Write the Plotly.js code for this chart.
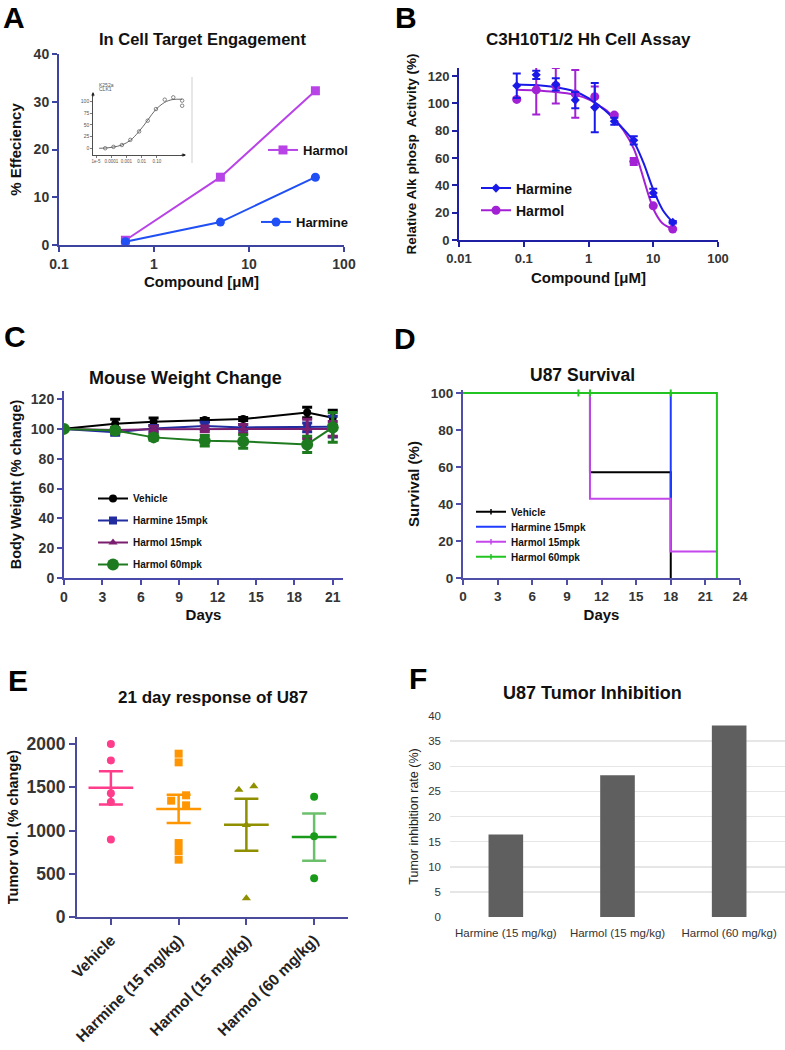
<!DOCTYPE html>
<html><head><meta charset="utf-8">
<script src="https://cdn.plot.ly/plotly-3.0.1.min.js"></script>
<style>html,body{margin:0;padding:0;background:#fff}#chart{width:785px;height:1050px}</style>
</head><body><div id="chart"></div>
<script>
// ================= DATA =================
// Panel A: In Cell Target Engagement
const concA = [0.5, 5, 50];
const harmolA = [1.0, 14.2, 32.3];
const harmineA = [0.7, 4.8, 14.2];
// Panel A inset (K252a / CLK1)
const insetPtsX = [4e-5, 1.4e-4, 5e-4, 1.8e-3, 6.8e-3, 0.025, 0.087, 0.33, 1.2, 4.6, 4.6];
const insetPtsY = [0, 3, 7, 18, 36, 59, 84, 104, 109, 102, 91];
const insetFitX = [1.6e-5, 4e-5, 1.3e-4, 5e-4, 1.8e-3, 6.3e-3, 0.025, 0.08, 0.32, 1.0, 4.6];
const insetFitY = [0, 0.5, 2.5, 7, 17, 35, 60, 82, 98, 104, 105];
const insetTicks = [1e-5, 1e-4, 1e-3, 1e-2, 0.1];
const insetTickText = ['1e-5', '0.0001', '0.001', '0.01', '0.10'];

// Panel B: C3H10T1/2 Hh Cell Assay
const concB = [0.078, 0.156, 0.3125, 0.625, 1.25, 2.5, 5, 10, 20];
const harmineB = [113, 121, 114, 102.5, 97, 87, 73, 34.5, 13];
const harmineErrB = [9, 3, 4.5, 6, 18, 2.5, 3, 3, 1];
const harmolB = [103, 110, 113, 107, 105, 91.5, 57.5, 25, 8];
const harmolErrB = [0, 18, 13, 17.5, 7.5, 1, 2.5, 0, 0];
const fitXB_harmine = [0.078, 0.15, 0.3, 0.6, 1.0, 1.5, 2.0, 2.5, 3.5, 5, 7, 10, 14, 20];
const fitYB_harmine = [114, 113.5, 112, 109, 104, 98, 93, 88, 81, 72, 57, 37, 22, 13];
const fitXB_harmol = [0.078, 0.15, 0.3, 0.6, 1.0, 1.5, 2.0, 2.5, 3.5, 5, 6.2, 7.5, 9, 11, 14, 20];
const fitYB_harmol = [110, 109.5, 108.5, 106.5, 103, 98, 94, 89, 80, 67, 54, 41, 29, 19, 12, 8];

// Panel C: Mouse Weight Change
const daysC = [0, 4, 7, 11, 14, 19, 21];
const vehicleC = [100, 103.5, 104.8, 105.9, 106.6, 111, 107.5];
const vehicleErrC = [0, 3, 2.5, 1, 1, 3.5, 5];
const harmineC = [100, 97.8, 100.3, 102, 101, 101, 101.5];
const harmineErrC = [0, 2, 2, 2.5, 2, 3, 7];
const harmol15C = [100, 99.3, 99.7, 100, 100, 100, 100];
const harmol15ErrC = [0, 1, 2, 2, 3, 6.5, 5];
const harmol60C = [100, 98.9, 94.3, 92, 91.5, 89.6, 101];
const harmol60ErrC = [0, 2, 2, 3.5, 4.5, 5.5, 10];

// Panel D: U87 Survival (Kaplan-Meier steps)
const vehicleDaysD = [0, 11, 18];
const vehicleSurvD = [100, 57.14, 0];
const harmineDaysD = [0, 18];
const harmineSurvD = [100, 14.29];
const harmol15DaysD = [0, 11, 18, 22];
const harmol15SurvD = [100, 42.86, 14.29, 14.29];
const harmol60DaysD = [0, 22];
const harmol60SurvD = [100, 0];
const censorDaysD = [10, 11, 18];
const censorSurvD = [100, 100, 100];

// Panel E: 21 day response of U87
const groupsE = ['Vehicle', 'Harmine (15 mg/kg)', 'Harmol (15 mg/kg)', 'Harmol (60 mg/kg)'];
const vehicleE = [2000, 1810, 1430, 1330, 895];
const harmineE = [1888, 1788, 1407, 1345, 1291, 855, 763, 663];
const harmol15E = [1511, 1472, 1064, 216];
const harmol60E = [1391, 933, 447];

// Panel F: U87 Tumor Inhibition
const groupsF = ['Harmine (15 mg/kg)', 'Harmol (15 mg/kg)', 'Harmol (60 mg/kg)'];
const inhibitionF = [16.4, 28.2, 38.1];

// ================= STYLE / LAYOUT HELPERS =================
const W = 785, H = 1050;
const fx = p => p / W;
const fy = p => 1 - p / H;
const FONT = 'Liberation Sans, Arial, Helvetica, sans-serif';
const TICKC = '#353535';

// jitter offsets for the scatter panel (layout only)
const jitterE = [
  [0, 0, 0, 0, 0],
  [0, 0, 0.11, -0.11, 0.11, 0, 0, 0],
  [0.11, -0.11, 0, 0],
  [0, 0, 0]
];

const mean = a => a.reduce((s, v) => s + v, 0) / a.length;
const sem = a => { const m = mean(a); return Math.sqrt(a.reduce((s, v) => s + (v - m) ** 2, 0) / (a.length - 1)) / Math.sqrt(a.length); };

function ax(color, size, extra) {
  return Object.assign({
    showline: true, linecolor: color, linewidth: 2,
    ticks: 'outside', tickcolor: color, tickwidth: 2, ticklen: 5,
    showgrid: false, zeroline: false, fixedrange: true,
    tickfont: {family: FONT, size: size, color: TICKC, weight: 'bold'}
  }, extra);
}
function ttl(text, size, standoff) {
  return {text: text, font: {family: FONT, size: size, color: '#111', weight: 'bold'}, standoff: standoff};
}

// colours
const cA_harmol = '#b843e6', cA_harmine = '#1f4ff5';
const cB_harmine = '#1a1ae8', cB_harmol = '#a321d4';
const cC = ['#000000', '#212d9e', '#7a1f6f', '#1e7a1e'];
const cD = ['#000000', '#1f3cff', '#c447ec', '#22c422'];
const cE = ['#ff3d8b', '#ff9500', '#8f8f00', '#1a9a1a'];
const cE60err = '#6cc06c';

const traces = [];

// ---- Panel A ----
traces.push({x: concA, y: harmolA, xaxis: 'x', yaxis: 'y', mode: 'lines+markers', name: 'Harmol',
  line: {color: cA_harmol, width: 2}, marker: {symbol: 'square', size: 9, color: cA_harmol}, legend: 'legend'});
traces.push({x: concA, y: harmineA, xaxis: 'x', yaxis: 'y', mode: 'lines+markers', name: 'Harmine',
  line: {color: cA_harmine, width: 2}, marker: {symbol: 'circle', size: 9, color: cA_harmine}, legend: 'legend2'});
// inset
traces.push({x: insetFitX, y: insetFitY, xaxis: 'x7', yaxis: 'y7', mode: 'lines', line: {color: '#444', width: 0.8, shape: 'spline'}, showlegend: false});
traces.push({x: insetPtsX, y: insetPtsY, xaxis: 'x7', yaxis: 'y7', mode: 'markers', marker: {symbol: 'circle-open', size: 3.5, color: '#555', line: {width: 0.7}}, showlegend: false});

// ---- Panel B ----
traces.push({x: fitXB_harmol, y: fitYB_harmol, xaxis: 'x2', yaxis: 'y2', mode: 'lines', line: {color: cB_harmol, width: 2, shape: 'spline'}, showlegend: false});
traces.push({x: fitXB_harmine, y: fitYB_harmine, xaxis: 'x2', yaxis: 'y2', mode: 'lines', line: {color: cB_harmine, width: 2, shape: 'spline'}, showlegend: false});
traces.push({x: concB, y: harmolB, xaxis: 'x2', yaxis: 'y2', mode: 'markers', showlegend: false,
  marker: {symbol: 'circle', size: 9, color: cB_harmol},
  error_y: {type: 'data', array: harmolErrB, color: cB_harmol, thickness: 2, width: 4}});
traces.push({x: concB, y: harmineB, xaxis: 'x2', yaxis: 'y2', mode: 'markers', showlegend: false,
  marker: {symbol: 'diamond', size: 7, color: cB_harmine},
  error_y: {type: 'data', array: harmineErrB, color: cB_harmine, thickness: 2, width: 4}});
traces.push({x: [null], y: [null], xaxis: 'x2', yaxis: 'y2', mode: 'lines+markers', name: 'Harmine', legend: 'legend3', legendgroup: 'b1',
  line: {color: cB_harmine, width: 2}, marker: {symbol: 'diamond', size: 7, color: cB_harmine}});
traces.push({x: [null], y: [null], xaxis: 'x2', yaxis: 'y2', mode: 'lines+markers', name: 'Harmol', legend: 'legend3', legendgroup: 'b2',
  line: {color: cB_harmol, width: 2}, marker: {symbol: 'circle', size: 9, color: cB_harmol}});

// ---- Panel C ----
const cNames = ['Vehicle', 'Harmine 15mpk', 'Harmol 15mpk', 'Harmol 60mpk'];
const cY = [vehicleC, harmineC, harmol15C, harmol60C];
const cErr = [vehicleErrC, harmineErrC, harmol15ErrC, harmol60ErrC];
const cSym = ['circle', 'square', 'triangle-up', 'circle'];
const cSize = [8, 8, 8, 12];
for (let i = 0; i < 4; i++) {
  traces.push({x: daysC, y: cY[i], xaxis: 'x3', yaxis: 'y3', mode: 'lines+markers', name: cNames[i],
    legend: 'legend4', legendgroup: 'c' + i,
    line: {color: cC[i], width: 2}, marker: {symbol: cSym[i], size: cSize[i], color: cC[i]},
    error_y: {type: 'data', array: cErr[i], color: cC[i], thickness: 3, width: 5}});
}

// ---- Panel D ----
const dDays = [vehicleDaysD, harmineDaysD, harmol15DaysD, harmol60DaysD];
const dSurv = [vehicleSurvD, harmineSurvD, harmol15SurvD, harmol60SurvD];
for (let i = 0; i < 4; i++) {
  traces.push({x: dDays[i], y: dSurv[i], xaxis: 'x4', yaxis: 'y4', mode: 'lines', line: {color: cD[i], width: 2, shape: 'hv'}, showlegend: false});
}
traces.push({x: censorDaysD, y: censorSurvD, xaxis: 'x4', yaxis: 'y4', mode: 'markers', showlegend: false, cliponaxis: false,
  marker: {symbol: 'line-ns-open', size: 5, color: cD[3], line: {color: cD[3], width: 2}}});
for (let i = 0; i < 4; i++) {
  traces.push({x: [null], y: [null], xaxis: 'x4', yaxis: 'y4', mode: i === 1 ? 'lines' : 'lines+markers', name: cNames[i],
    legend: 'legend' + (5 + i), line: {color: cD[i], width: 2},
    marker: {symbol: 'line-ns-open', size: 4, color: cD[i], line: {color: cD[i], width: 1.5}}});
}

// ---- Panel E ----
const eData = [vehicleE, harmineE, harmol15E, harmol60E];
const eSym = ['circle', 'square', 'triangle-up', 'circle'];
for (let g = 0; g < 4; g++) {
  const m = mean(eData[g]), s = sem(eData[g]);
  traces.push({x: [g], y: [m], xaxis: 'x5', yaxis: 'y5', mode: 'markers', showlegend: false,
    marker: {size: 1, color: 'rgba(0,0,0,0)'},
    error_y: {type: 'data', array: [s], color: g === 3 ? cE60err : cE[g], thickness: 2.5, width: 12}});
  traces.push({x: [g], y: [m], xaxis: 'x5', yaxis: 'y5', mode: 'markers', showlegend: false,
    marker: {size: 1, color: 'rgba(0,0,0,0)'},
    error_x: {type: 'data', array: [0.33], color: cE[g], thickness: 2.5, width: 0}});
  traces.push({x: eData[g].map((v, k) => g + jitterE[g][k]), y: eData[g], xaxis: 'x5', yaxis: 'y5', mode: 'markers', showlegend: false,
    cliponaxis: false, marker: {symbol: eSym[g], size: 8, color: cE[g]}});
}

// ---- Panel F ----
traces.push({type: 'bar', x: groupsF, y: inhibitionF, xaxis: 'x6', yaxis: 'y6', width: 0.31,
  marker: {color: '#5f5f5f', line: {width: 0}}, showlegend: false});

// ================= LAYOUT =================
function leg(x, y, size, extra) {
  return Object.assign({x: fx(x), y: fy(y), xanchor: 'left', yanchor: 'middle', bgcolor: 'rgba(0,0,0,0)',
    borderwidth: 0, font: {family: FONT, size: size, color: '#111', weight: 'bold'}, itemclick: false, itemdoubleclick: false}, extra || {});
}

const layout = {
  width: W, height: H, margin: {l: 0, r: 0, t: 0, b: 0},
  paper_bgcolor: '#fff', plot_bgcolor: 'rgba(0,0,0,0)',
  font: {family: FONT},
  showlegend: true,
  // A
  xaxis: ax('#3d44a0', 14, {domain: [fx(59), fx(344)], anchor: 'y', type: 'log', range: [-1, 2],
    tickvals: [0.1, 1, 10, 100], ticktext: ['0.1', '1', '10', '100'], title: ttl('Compound [μM]', 15, 6)}),
  yaxis: ax('#3d44a0', 14, {domain: [fy(245), fy(54)], anchor: 'x', range: [0, 40], tickvals: [0, 10, 20, 30, 40],
    title: ttl('% Effeciency', 15, 8)}),
  // inset
  xaxis7: {domain: [fx(93), fx(185)], anchor: 'y7', type: 'log', range: [-5.2, 0.85], showline: true, linecolor: '#222', linewidth: 0.8,
    ticks: 'outside', ticklen: 2, tickcolor: '#222', tickwidth: 0.6, tickvals: insetTicks, ticktext: insetTickText, tickangle: 0,
    tickfont: {family: FONT, size: 4.5, color: '#555'}, showgrid: false, zeroline: false, fixedrange: true},
  yaxis7: {domain: [fy(155), fy(95)], anchor: 'x7', range: [-14.4, 114], showline: true, linecolor: '#222', linewidth: 0.8,
    ticks: 'outside', ticklen: 2, tickcolor: '#222', tickwidth: 0.6, tickvals: [0, 25, 50, 75, 100],
    tickfont: {family: FONT, size: 5, color: '#555'}, showgrid: false, zeroline: false, fixedrange: true},
  // B
  xaxis2: ax('#1f1fa3', 13, {domain: [fx(459), fx(718)], anchor: 'y2', type: 'log', range: [-2, 2],
    tickvals: [0.01, 0.1, 1, 10, 100], ticktext: ['0.01', '0.1', '1', '10', '100'], title: ttl('Compound [μM]', 15, 8)}),
  yaxis2: ax('#1f1fa3', 13, {domain: [fy(240), fy(68)], anchor: 'x2', range: [0, 126], tickvals: [0, 20, 40, 60, 80, 100, 120],
    title: ttl('Relative Alk phosp  Activity (%)', 13.5, 8)}),
  // C
  xaxis3: ax('#4a4aad', 14, {domain: [fx(64), fx(343)], anchor: 'y3', range: [0, 21.8], tickvals: [0, 3, 6, 9, 12, 15, 18, 21],
    title: ttl('Days', 15, 6)}),
  yaxis3: ax('#4a4aad', 14, {domain: [fy(578), fy(391)], anchor: 'x3', range: [0, 125.4], tickvals: [0, 20, 40, 60, 80, 100, 120],
    title: ttl('Body Weight (% change)', 14.5, 6)}),
  // D
  xaxis4: ax('#4f4fa8', 13.5, {domain: [fx(463), fx(740)], anchor: 'y4', range: [0, 24], tickvals: [0, 3, 6, 9, 12, 15, 18, 21, 24],
    title: ttl('Days', 15, 6)}),
  yaxis4: ax('#4f4fa8', 13.5, {domain: [fy(578), fy(390)], anchor: 'x4', range: [0, 101.6], tickvals: [0, 20, 40, 60, 80, 100],
    title: ttl('Survival (%)', 15, 8)}),
  // E
  xaxis5: ax('#4b4b9e', 15, {domain: [fx(77), fx(348)], anchor: 'y5', range: [-0.5, 3.5], tickvals: [0, 1, 2, 3], ticktext: groupsE,
    tickangle: -45, ticklen: 6, tickfont: {family: FONT, size: 15.5, color: '#222', weight: 'bold'}}),
  yaxis5: ax('#4b4b9e', 17.5, {domain: [fy(917), fy(737)], anchor: 'x5', range: [0, 2081], tickvals: [0, 500, 1000, 1500, 2000],
    ticklen: 6, title: ttl('Tumor vol. (% change)', 14.5, 4)}),
  // F
  xaxis6: {domain: [fx(450), 1], anchor: 'y6', type: 'category', range: [-0.5, 2.5], showline: false, ticks: '', showgrid: false,
    zeroline: false, fixedrange: true, ticklabelstandoff: 7, tickfont: {family: FONT, size: 11.5, color: '#333'}},
  yaxis6: {domain: [fy(917), fy(716)], anchor: 'x6', range: [0, 40], dtick: 5, showline: false, ticks: '', showgrid: true,
    gridcolor: '#e6e6e6', gridwidth: 1.5, zeroline: false, fixedrange: true, ticklabelstandoff: 8,
    tickfont: {family: FONT, size: 11.5, color: '#333'},
    title: {text: 'Tumor inhibition rate (%)', font: {family: FONT, size: 12.5, color: '#222'}, standoff: 6}},
  legend: leg(263, 150, 13),
  legend2: leg(256, 222, 13),
  legend3: leg(476, 199.5, 14, {tracegroupgap: 1}),
  legend4: leg(93, 531.5, 10, {tracegroupgap: 3}),
  legend5: leg(471, 511.7, 10),
  legend6: leg(471, 526.7, 10),
  legend7: leg(471, 541.7, 10),
  legend8: leg(471, 556.7, 10),
  shapes: [
    {type: 'line', xref: 'paper', yref: 'paper', x0: fx(192), x1: fx(192), y0: fy(77), y1: fy(163), line: {color: '#cfcfcf', width: 1}}
  ],
  annotations: [
    {text: 'A', x: fx(14), y: fy(17)}, {text: 'B', x: fx(406), y: fy(17)},
    {text: 'C', x: fx(15), y: fy(337)}, {text: 'D', x: fx(405), y: fy(338)},
    {text: 'E', x: fx(18), y: fy(680)}, {text: 'F', x: fx(418), y: fy(678)}
  ].map(a => Object.assign(a, {xref: 'paper', yref: 'paper', showarrow: false, xanchor: 'center', yanchor: 'middle',
    borderpad: 0, font: {family: FONT, size: 30, color: '#000', weight: 'bold'}})).concat([
    {text: 'In Cell Target Engagement', x: fx(202), y: fy(39), size: 16.5},
    {text: 'C3H10T1/2 Hh Cell Assay', x: fx(588), y: fy(39), size: 17},
    {text: 'Mouse Weight Change', x: fx(185), y: fy(378), size: 18},
    {text: 'U87 Survival', x: fx(582), y: fy(375), size: 17.5},
    {text: '21 day response of U87', x: fx(213), y: fy(697), size: 17},
    {text: 'U87 Tumor Inhibition', x: fx(592), y: fy(693), size: 18}
  ].map(a => ({text: a.text, x: a.x, y: a.y, xref: 'paper', yref: 'paper', showarrow: false, xanchor: 'center', yanchor: 'middle',
    font: {family: FONT, size: a.size, color: '#111', weight: 'bold'}}))).concat([
    {text: 'K252a', x: fx(97), y: fy(84.5), xref: 'paper', yref: 'paper', showarrow: false, xanchor: 'left', yanchor: 'middle',
      font: {family: FONT, size: 5, color: '#555'}},
    {text: 'CLK1', x: fx(97), y: fy(89.5), xref: 'paper', yref: 'paper', showarrow: false, xanchor: 'left', yanchor: 'middle',
      font: {family: FONT, size: 5, color: '#555'}},
    {text: '', x: fx(93), y: fy(92), xref: 'paper', yref: 'paper', showarrow: true, ax: 0, ay: 6, arrowhead: 2, arrowsize: 0.7, arrowwidth: 1, arrowcolor: '#222'},
    {text: '', x: fx(186), y: fy(155), xref: 'paper', yref: 'paper', showarrow: true, ax: -6, ay: 0, arrowhead: 2, arrowsize: 0.7, arrowwidth: 1, arrowcolor: '#222'}
  ])
};

Plotly.newPlot('chart', traces, layout, {displayModeBar: false, staticPlot: true});
</script></body></html>
